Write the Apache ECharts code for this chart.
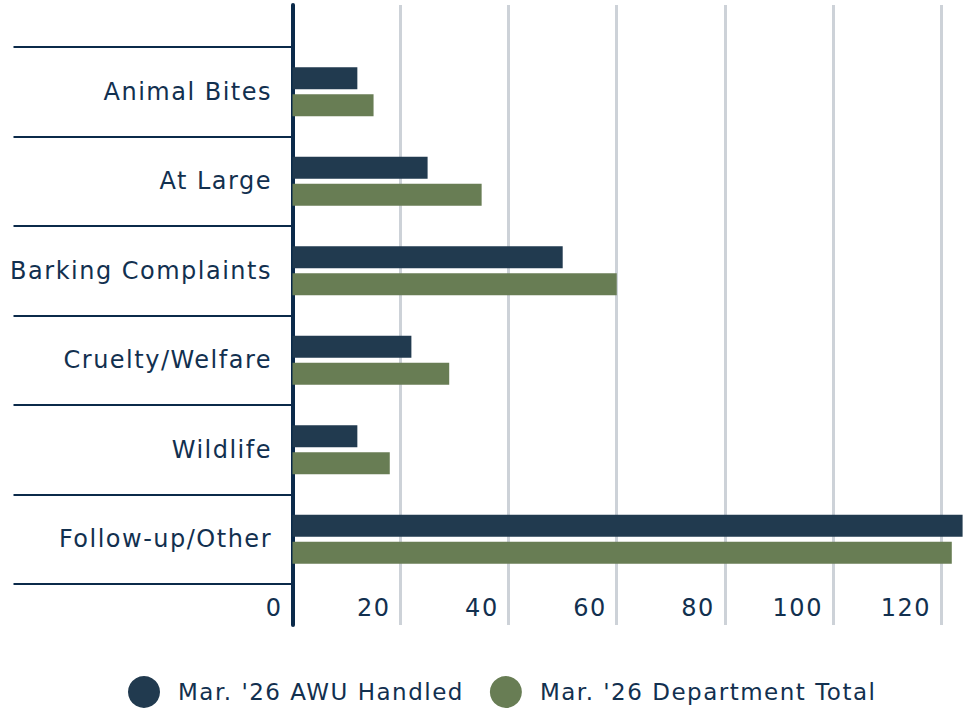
<!DOCTYPE html>
<html>
<head>
<meta charset="utf-8">
<script src="https://cdn.jsdelivr.net/npm/echarts@6/dist/echarts.min.js"></script>
<style>
  html, body { margin: 0; padding: 0; background: #fff; }
  #awuCallTypes { width: 973px; height: 711px; }
  /* the original font is a wide geometric sans, open the spacing up a bit */
  #awuCallTypes svg text { letter-spacing: 1.5px; }
</style>
</head>
<body>
<div id="awuCallTypes"></div>
<script>
const categories = ["Animal Bites", "At Large", "Barking Complaints", "Cruelty/Welfare", "Wildlife", "Follow-up/Other"];
const awuHandled = [12, 25, 50, 22, 12, 124];
const departmentTotal = [15, 35, 60, 29, 18, 122];
const seriesNames = ["Mar. '26 AWU Handled", "Mar. '26 Department Total"];

const navy = "#0b2a4a";
const textColor = "#12304f";
const fontFamily = "DejaVu Sans";

const chart = echarts.init(document.getElementById("awuCallTypes"), null, { renderer: "svg" });

const option = {
  animation: false,
  textStyle: { fontFamily: fontFamily },
  legend: {
    data: seriesNames,
    left: 123,
    top: 671,
    icon: "circle",
    itemWidth: 32,
    itemHeight: 32,
    itemGap: 56,
    textStyle: {
      color: textColor,
      fontSize: 23,
      fontFamily: fontFamily,
      padding: [0, 0, 0, 13],
    },
  },
  grid: [
    // full-height frame: vertical grid lines and the thick y axis line
    { left: 292.5, right: 5, top: 5, bottom: 86 },
    // category bands with the bars
    { left: 292.5, right: 5, top: 47, bottom: 127 },
  ],
  xAxis: [
    {
      gridIndex: 0,
      type: "value",
      min: 0,
      max: 125,
      interval: 20,
      axisLine: { show: false },
      axisTick: { show: false },
      axisLabel: { show: false },
      splitLine: {
        show: true,
        showMinLine: false,
        showMaxLine: false,
        lineStyle: { color: "#cdd2d8", width: 3 },
      },
    },
    {
      gridIndex: 1,
      type: "value",
      min: 0,
      max: 125,
      interval: 20,
      axisLine: { show: false },
      axisTick: { show: false },
      splitLine: { show: false },
      axisLabel: {
        showMaxLabel: false,
        align: "right",
        margin: 12,
        padding: [0, 10, 0, 0],
        color: textColor,
        fontSize: 24,
        fontFamily: fontFamily,
      },
    },
  ],
  yAxis: [
    {
      gridIndex: 0,
      type: "value",
      offset: 1.5,
      axisLine: { show: true, lineStyle: { color: navy, width: 4 } },
      axisTick: { show: false },
      axisLabel: { show: false },
      splitLine: { show: false },
    },
    {
      gridIndex: 1,
      type: "category",
      inverse: true,
      data: categories,
      offset: 1.5,
      axisLine: { show: false },
      axisTick: {
        show: true,
        length: 279,
        lineStyle: { color: navy, width: 2 },
      },
      axisLabel: {
        margin: 19,
        color: textColor,
        fontSize: 24,
        fontFamily: fontFamily,
      },
    },
  ],
  series: [
    {
      name: seriesNames[0],
      type: "bar",
      xAxisIndex: 1,
      yAxisIndex: 1,
      data: awuHandled,
      barWidth: 22,
      barGap: "23%",
      itemStyle: { color: "#213a4f" },
    },
    {
      name: seriesNames[1],
      type: "bar",
      xAxisIndex: 1,
      yAxisIndex: 1,
      data: departmentTotal,
      barWidth: 22,
      barGap: "23%",
      itemStyle: { color: "#687d54" },
    },
  ],
};

chart.setOption(option);
</script>
</body>
</html>
